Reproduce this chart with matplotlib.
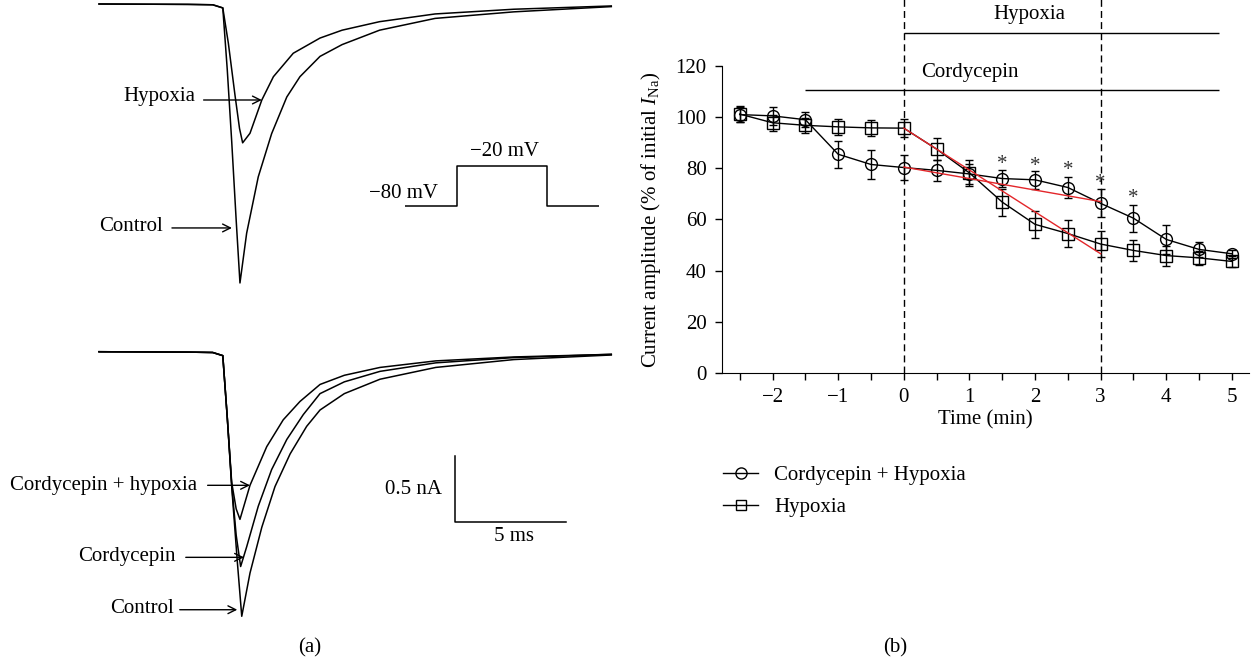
import matplotlib
matplotlib.use("Agg")
import matplotlib.pyplot as plt
from matplotlib.lines import Line2D

plt.rcParams['font.family'] = ['Liberation Serif', 'DejaVu Serif']
plt.rcParams['mathtext.fontset'] = 'custom'
plt.rcParams['mathtext.rm'] = 'Liberation Serif'
plt.rcParams['mathtext.it'] = 'Liberation Serif:italic'
plt.rcParams['font.size'] = 15

# ---- panel (a): sodium current traces, time (ms) / current (nA)
top_ctrl_t = [0, 4.0, 5.1, 5.55, 5.75, 5.95, 6.15, 6.32, 6.62, 7.14, 7.74, 8.42, 9.01, 9.91, 10.9, 12.58, 15.07, 18.6, 22.97]
top_ctrl_i = [0, -0.003, -0.006, -0.03, -0.5, -1.05, -1.65, -2.13, -1.75, -1.32, -0.99, -0.71, -0.555, -0.40, -0.31, -0.20, -0.11, -0.06, -0.02]
top_hyp_t = [0, 4.0, 5.1, 5.55, 5.8, 6.1, 6.3, 6.44, 6.77, 7.30, 7.82, 8.71, 9.91, 10.9, 12.58, 15.07, 18.6, 22.97]
top_hyp_i = [0, -0.003, -0.006, -0.03, -0.3, -0.7, -0.95, -1.06, -0.987, -0.733, -0.555, -0.376, -0.26, -0.2, -0.135, -0.076, -0.04, -0.015]

bot_ch_t = [0, 4.0, 5.1, 5.55, 5.75, 5.95, 6.15, 6.32, 6.77, 7.52, 8.26, 9.01, 9.91, 11.0, 12.6, 15.1, 18.6, 22.97]
bot_ch_i = [0, -0.003, -0.006, -0.03, -0.5, -1.0, -1.2, -1.28, -1.02, -0.725, -0.52, -0.38, -0.25, -0.18, -0.12, -0.07, -0.04, -0.02]
bot_cord_t = [0, 4.0, 5.1, 5.55, 5.75, 5.95, 6.15, 6.35, 6.62, 7.14, 7.74, 8.42, 9.16, 9.91, 11.0, 12.6, 15.1, 18.6, 22.97]
bot_cord_i = [0, -0.003, -0.006, -0.03, -0.5, -1.02, -1.4, -1.64, -1.49, -1.18, -0.90, -0.67, -0.48, -0.32, -0.23, -0.15, -0.085, -0.045, -0.02]
bot_ctrl_t = [0, 4.0, 5.1, 5.55, 5.75, 5.95, 6.2, 6.40, 6.77, 7.30, 7.89, 8.57, 9.31, 9.91, 11.0, 12.6, 15.1, 18.6, 22.97]
bot_ctrl_i = [0, -0.003, -0.006, -0.03, -0.5, -1.03, -1.6, -2.02, -1.69, -1.34, -1.03, -0.78, -0.57, -0.445, -0.32, -0.21, -0.12, -0.06, -0.025]

# voltage protocol
prot_t = [0, 2.31, 6.35, 8.69]
prot_v = [-80, -20, -80, -80]

scalebar_ms = 5
scalebar_na = 0.5

# ---- panel (b): current amplitude (% of initial INa)
times = [-2.5, -2, -1.5, -1, -0.5, 0, 0.5, 1, 1.5, 2, 2.5, 3, 3.5, 4, 4.5, 5]
ch_mean = [101, 100.5, 99, 85.5, 81.5, 80.3, 79.2, 77.8, 76, 75.5, 72.5, 66.3, 60.5, 52.2, 48.3, 46.6]
ch_err = [3, 3.5, 3, 5.2, 5.8, 5, 4, 4, 3.3, 3.5, 4.2, 5.5, 5.2, 5.8, 3, 1.5]
hy_mean = [101.2, 97.8, 96.8, 96.2, 95.8, 95.7, 87.5, 78.2, 66.8, 58.1, 54.5, 50.4, 47.9, 45.9, 45, 43.6]
hy_err = [3.2, 3.2, 3, 3.2, 3, 3.5, 4.2, 5, 5.3, 5.2, 5.2, 5.2, 4.2, 3.9, 2.6, 2]

star_x = [1.5, 2, 2.5, 3, 3.5]
star_y = [83, 82.3, 80.6, 75.7, 69.8]

fit_hy_x = [0, 3]
fit_hy_y = [95.7, 46.6]
fit_ch_x = [0, 3]
fit_ch_y = [80.5, 67]

phase_marks = [0, 3]
hyp_period = [0, 4.8]
cord_period = [-1.5, 4.8]

xtick_pos = [-2.5, -2, -1.5, -1, -0.5, 0, 0.5, 1, 1.5, 2, 2.5, 3, 3.5, 4, 4.5, 5]
xtick_labels = ['', '\u22122', '', '\u22121', '', '0', '', '1', '', '2', '', '3', '', '4', '', '5']
ytick_pos = [0, 20, 40, 60, 80, 100, 120]

fig = plt.figure(figsize=(12.55, 6.65), dpi=100)

arrow = dict(arrowstyle='->', lw=1, color='k', shrinkA=0, shrinkB=0, mutation_scale=14)

# top traces
axt = fig.add_axes([0, 0.5038, 0.51, 0.4962])
axt.plot(top_ctrl_t, top_ctrl_i, color='k', lw=1.1)
axt.plot(top_hyp_t, top_hyp_i, color='k', lw=1.1)
axt.set_xlim(-4.44, 24.26)
axt.set_ylim(-2.489, 0.0305)
axt.axis('off')
axt.annotate('', xy=(7.3, -0.733), xytext=(4.69, -0.733), arrowprops=arrow)
axt.text(4.34, -0.71, 'Hypoxia', ha='right', va='center')
axt.annotate('', xy=(5.96, -1.71), xytext=(3.27, -1.71), arrowprops=arrow)
axt.text(2.87, -1.70, 'Control', ha='right', va='center')

# protocol inset
axp = fig.add_axes([0.3227, 0.6767, 0.1546, 0.0977])
axp.plot(prot_t, prot_v, color='k', lw=1.1, drawstyle='steps-post')
axp.set_xlim(0, 8.7)
axp.set_ylim(-94, 3.5)
axp.axis('off')
axp.annotate('\u221220 mV', xy=((prot_t[1] + prot_t[2]) / 2, -20), xytext=(2, 10),
             textcoords='offset points', ha='center', va='center')
axp.annotate('\u221280 mV', xy=(0, -80), xytext=(24, 8.5),
             textcoords='offset points', ha='right', va='center')

# bottom traces
axb = fig.add_axes([0, 0, 0.51, 0.5038])
axb.plot(bot_ctrl_t, bot_ctrl_i, color='k', lw=1.1)
axb.plot(bot_cord_t, bot_cord_i, color='k', lw=1.1)
axb.plot(bot_ch_t, bot_ch_i, color='k', lw=1.1)
axb.set_xlim(-4.44, 24.26)
axb.set_ylim(-2.392, 0.166)
axb.axis('off')
sb_t, sb_i = 15.94, -1.30
axb.plot([sb_t, sb_t, sb_t + scalebar_ms], [sb_i + scalebar_na, sb_i, sb_i], color='k', lw=1.1)
axb.text(sb_t - 0.55, sb_i + scalebar_na / 2, '0.5 nA', ha='right', va='center')
axb.text(sb_t + scalebar_ms / 2 + 0.15, sb_i - 0.11, '5 ms', ha='center', va='center')
axb.annotate('', xy=(6.77, -1.02), xytext=(4.87, -1.02), arrowprops=arrow)
axb.text(4.42, -1.018, 'Cordycepin + hypoxia', ha='right', va='center')
axb.annotate('', xy=(6.50, -1.57), xytext=(3.89, -1.57), arrowprops=arrow)
axb.text(3.45, -1.56, 'Cordycepin', ha='right', va='center')
axb.annotate('', xy=(6.2, -1.97), xytext=(3.62, -1.97), arrowprops=arrow)
axb.text(3.36, -1.96, 'Control', ha='right', va='center')

fig.text(310 / 1255, 1 - 648 / 665, '(a)', ha='center', va='center')

# panel (b)
ax = fig.add_axes([0.5753, 0.4391, 0.4199, 0.4617])
for xm in phase_marks:
    ax.axvline(xm, ymin=0, ymax=146 / 120, color='k', lw=1, ls=(0, (5, 3)), clip_on=False)
ax.hlines(132.8, hyp_period[0], hyp_period[1], color='k', lw=1, clip_on=False)
ax.hlines(110.7, cord_period[0], cord_period[1], color='k', lw=1, clip_on=False)
ax.text(1.92, 140, 'Hypoxia', ha='center', va='center')
ax.text(1.0, 117.4, 'Cordycepin', ha='center', va='center')

ax.errorbar(times, ch_mean, yerr=ch_err, color='k', lw=1, marker='o', ms=8.5,
            mfc='none', mec='k', mew=1, capsize=3, elinewidth=1, capthick=1)
ax.errorbar(times, hy_mean, yerr=hy_err, color='k', lw=1, marker='s', ms=8,
            mfc='none', mec='k', mew=1, capsize=3, elinewidth=1, capthick=1)
ax.plot(fit_hy_x, fit_hy_y, color='#e3262a', lw=1, zorder=4)
ax.plot(fit_ch_x, fit_ch_y, color='#e3262a', lw=1, zorder=4)
for sx, sy in zip(star_x, star_y):
    ax.text(sx, sy - 1.5, '*', ha='center', va='center', color='#333333', fontsize=15)

ax.set_xlim(-2.77, 5.26)
ax.set_ylim(0, 120)
ax.set_xticks(xtick_pos)
ax.set_xticklabels(xtick_labels)
ax.set_yticks(ytick_pos)
ax.spines['top'].set_visible(False)
ax.spines['right'].set_visible(False)
ax.tick_params(direction='out', length=5, width=1, pad=6, labelsize=15)
ax.set_xlabel('Time (min)', labelpad=2)
ax.set_ylabel('Current amplitude (% of initial $I_{\\mathrm{Na}}$)', labelpad=9)

handles = [Line2D([], [], color='k', lw=1, marker='o', ms=8, mfc='none'),
           Line2D([], [], color='k', lw=1, marker='s', ms=7.5, mfc='none')]
fig.legend(handles, ['Cordycepin + Hypoxia', 'Hypoxia'], loc='upper left',
           bbox_to_anchor=(0.576, 0.300), frameon=False, handlelength=1.7,
           handletextpad=0.75, labelspacing=0.6, borderpad=0, borderaxespad=0)

fig.text(895 / 1255, 1 - 648 / 665, '(b)', ha='center', va='center')

fig.savefig('out.png', dpi=100)
